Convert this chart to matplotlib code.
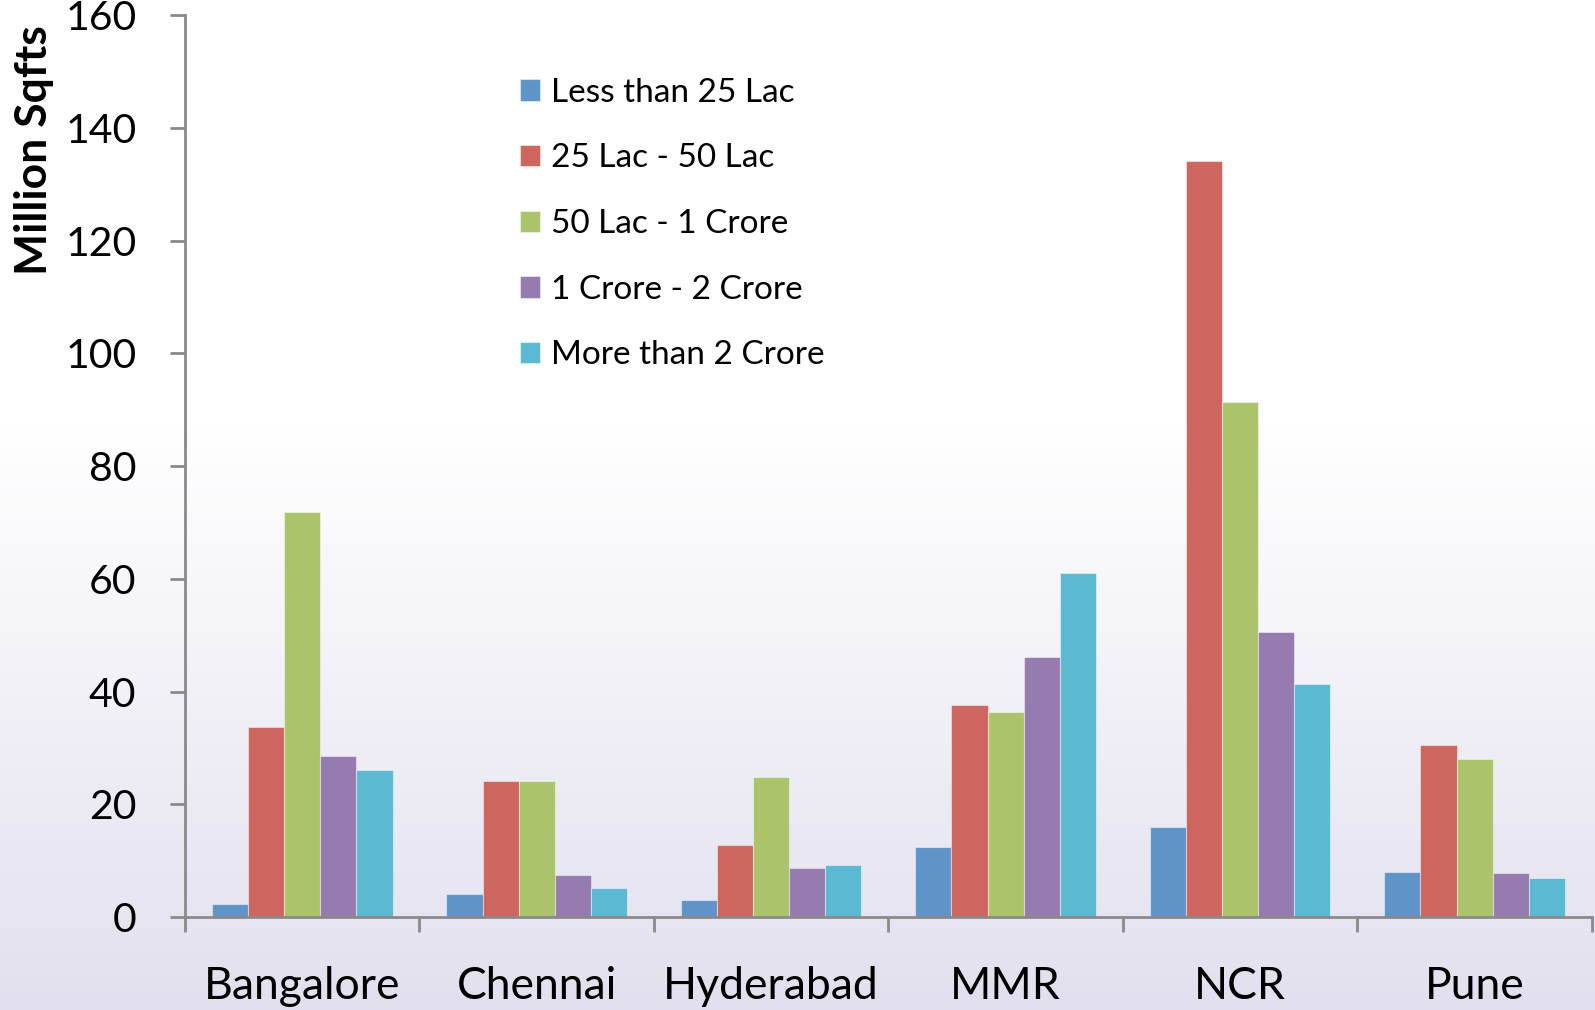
import numpy as np
import matplotlib
matplotlib.use("Agg")
import matplotlib.pyplot as plt
from matplotlib.colors import LinearSegmentedColormap

plt.rcParams['font.family'] = ['Lato', 'DejaVu Sans']

cities = ["Bangalore", "Chennai", "Hyderabad", "MMR", "NCR", "Pune"]
bands = ["Less than 25 Lac", "25 Lac - 50 Lac", "50 Lac - 1 Crore",
         "1 Crore - 2 Crore", "More than 2 Crore"]

# Million sq ft per city, one list per price band
less_25_lac = [2.3, 4.1, 3.0, 12.5, 16.0, 7.9]
lac_25_50 = [33.8, 24.1, 12.8, 37.7, 134.1, 30.6]
lac_50_1cr = [71.8, 24.1, 24.8, 36.4, 91.3, 28.1]
cr_1_2 = [28.6, 7.5, 8.7, 46.1, 50.6, 7.8]
more_2_cr = [26.1, 5.1, 9.2, 61.0, 41.4, 7.0]

series = [less_25_lac, lac_25_50, lac_50_1cr, cr_1_2, more_2_cr]
colors = ["#6094C8", "#CD665F", "#ABC46C", "#957BB0", "#5CB9D2"]

fig = plt.figure(figsize=(15.95, 10.10), dpi=100)

# soft white-to-lavender background behind everything
bg = fig.add_axes([0, 0, 1, 1], zorder=-10)
grad = np.ones((256, 1))
t = np.linspace(0, 1, 256)
start = 0.42
grad[:, 0] = np.clip((t - start) / (1 - start), 0, 1)
cmap = LinearSegmentedColormap.from_list("bgfade", ["#FFFFFF", "#E2E0EE"])
bg.imshow(grad, aspect="auto", cmap=cmap, extent=[0, 1, 0, 1], origin="upper")
bg.axis("off")

ax = fig.add_axes([0.116, 0.0921, 0.882, 0.8927])
ax.patch.set_alpha(0)

x = np.arange(len(cities))
w = 0.154
for i, (vals, c, lab) in enumerate(zip(series, colors, bands)):
    ax.bar(x + (i - 2) * w, vals, width=w, color=c, label=lab,
           edgecolor=(1, 1, 1, 0.45), linewidth=0.8)

ax.set_xlim(-0.5, len(cities) - 0.5)
ax.set_ylim(0, 160)
ax.set_yticks(np.arange(0, 161, 20))

ax.spines["top"].set_visible(False)
ax.spines["right"].set_visible(False)
for s in ["left", "bottom"]:
    ax.spines[s].set_color("#8A8A8A")
    ax.spines[s].set_linewidth(2)

ax.set_xticks(x)
ax.set_xticklabels(cities)
ax.set_xticks(np.arange(-0.5, len(cities)), minor=True)
ax.tick_params(axis="x", which="major", length=0, pad=35, labelsize=32)
ax.tick_params(axis="x", which="minor", length=11, width=2, color="#8A8A8A")
ax.tick_params(axis="y", length=11, width=2, color="#8A8A8A", pad=24,
               labelsize=29.5)

fig.text(34 / 1595, 1 - 150 / 1010, "Million Sqfts", rotation=90,
         ha="center", va="center", fontsize=32, fontweight="bold")

ax.legend(loc="upper left", bbox_to_anchor=(503 / 1595, 1 - 61 / 1010),
          bbox_transform=fig.transFigure, frameon=False, fontsize=24,
          handlelength=0.6, handleheight=0.6, handletextpad=0.35,
          labelspacing=1.07, borderpad=0)

fig.savefig("out.png", dpi=100)
